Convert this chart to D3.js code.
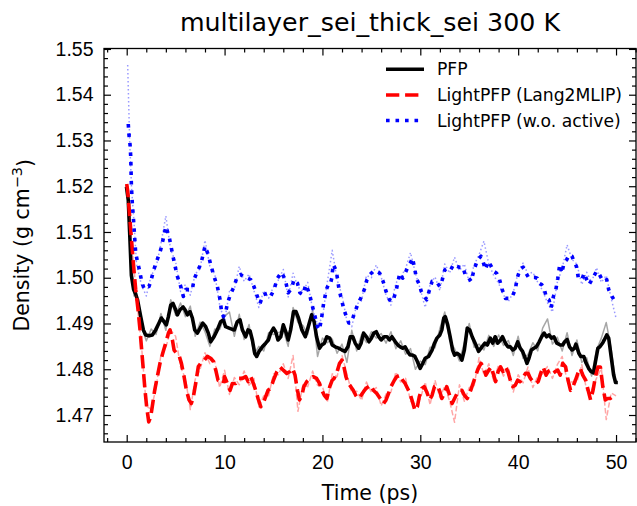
<!DOCTYPE html>
<html>
<head>
<meta charset="utf-8">
<script src="https://cdn.jsdelivr.net/npm/d3@7/dist/d3.min.js"></script>
<style>
  body { margin: 0; background: #fff; }
  svg { font-family: "DejaVu Sans", sans-serif; }
</style>
</head>
<body>
<div id="main"></div>
<script>

// ---- data ----

const xTicks = [0, 10, 20, 30, 40, 50];
const xMinorTicks = [-2, 2, 4, 6, 8, 12, 14, 16, 18, 22, 24, 26, 28, 32, 34, 36, 38, 42, 44, 46, 48, 52];
const yTicks = [1.47, 1.48, 1.49, 1.50, 1.51, 1.52, 1.53, 1.54, 1.55];
const yMinorTicks = [1.466, 1.468, 1.472, 1.474, 1.476, 1.478, 1.482, 1.484, 1.486, 1.488,
    1.492, 1.494, 1.496, 1.498, 1.502, 1.504, 1.506, 1.508, 1.512, 1.514, 1.516, 1.518,
    1.522, 1.524, 1.526, 1.528, 1.532, 1.534, 1.536, 1.538, 1.542, 1.544, 1.546, 1.548];

const seriesNames = ["PFP", "LightPFP (Lang2MLIP)", "LightPFP (w.o. active)"];

// smoothed PFP curve
const pfpTime = [0.0, 0.16, 0.3, 0.48, 0.7, 0.9, 1.1, 1.43, 1.7, 1.94, 2.28, 2.62, 2.96, 3.3, 3.54, 3.81, 4.05, 4.26, 4.5, 4.73,
    5.0, 5.18, 5.45, 5.76, 5.96, 6.2, 6.47, 6.71, 6.95, 7.22, 7.5, 7.77, 8.07, 8.34, 8.58, 8.92, 9.26, 9.6, 9.88, 10.1,
    10.46, 10.8, 11.0, 11.3, 11.58, 11.82, 12.16, 12.4, 12.6, 12.84, 13.08, 13.28, 13.52, 13.86, 14.2, 14.48, 14.7, 15.0, 15.22, 15.46,
    15.74, 16.0, 16.3, 16.5, 16.75, 17.05, 17.3, 17.55, 17.9, 18.25, 18.55, 18.9, 19.15, 19.4, 19.7, 19.93, 20.2, 20.45, 20.75, 21.0,
    21.3, 21.65, 22.0, 22.3, 22.6, 22.85, 23.1, 23.35, 23.7, 23.95, 24.2, 24.5, 24.75, 25.0, 25.25, 25.5, 25.75, 26.0, 26.3, 26.6,
    26.85, 27.1, 27.45, 27.7, 27.95, 28.2, 28.45, 28.7, 28.95, 29.2, 29.45, 29.7, 29.98, 30.25, 30.5, 30.85, 31.2, 31.45, 31.7, 32.0,
    32.2, 32.4, 32.55, 32.8, 33.05, 33.3, 33.5, 33.75, 34.0, 34.25, 34.5, 34.8, 35.05, 35.3, 35.6, 35.95, 36.3, 36.6, 36.85, 37.15,
    37.4, 37.65, 37.9, 38.2, 38.4, 38.7, 38.95, 39.2, 39.45, 39.7, 39.95, 40.2, 40.45, 40.65, 40.9, 41.1, 41.35, 41.6, 41.85, 42.15,
    42.4, 42.65, 42.9, 43.15, 43.4, 43.65, 43.95, 44.3, 44.55, 44.75, 45.0, 45.25, 45.5, 45.75, 45.9, 46.2, 46.4, 46.7, 46.95, 47.2,
    47.45, 47.7, 47.9, 48.15, 48.35, 48.65, 48.8, 49.05, 49.25, 49.5, 49.75, 49.95, 50.0];
const pfpDensity = [1.5195, 1.5170, 1.5100, 1.5005, 1.4975, 1.4965, 1.4952, 1.4915, 1.4886, 1.4875, 1.4873, 1.4875, 1.4886, 1.4901, 1.4912, 1.4904, 1.4897, 1.4915, 1.4940, 1.4944,
    1.4930, 1.4919, 1.4930, 1.4936, 1.4930, 1.4919, 1.4926, 1.4912, 1.4886, 1.4879, 1.4890, 1.4901, 1.4893, 1.4879, 1.4860, 1.4871, 1.4886, 1.4904, 1.4908, 1.4893,
    1.4890, 1.4887, 1.4886, 1.4904, 1.4908, 1.4886, 1.4871, 1.4886, 1.4884, 1.4864, 1.4835, 1.4828, 1.4839, 1.4849, 1.4857, 1.4864, 1.4879, 1.4890, 1.4882, 1.4864,
    1.4871, 1.4897, 1.4879, 1.4864, 1.4886, 1.4926, 1.4926, 1.4912, 1.4886, 1.4871, 1.4893, 1.4919, 1.4904, 1.4871, 1.4846, 1.4853, 1.4857, 1.4871, 1.4868, 1.4853,
    1.4849, 1.4846, 1.4842, 1.4839, 1.4849, 1.4871, 1.4871, 1.4857, 1.4846, 1.4857, 1.4879, 1.4871, 1.4860, 1.4868, 1.4879, 1.4882, 1.4871, 1.4864, 1.4871, 1.4871,
    1.4864, 1.4871, 1.4860, 1.4853, 1.4849, 1.4846, 1.4849, 1.4839, 1.4831, 1.4831, 1.4828, 1.4817, 1.4802, 1.4813, 1.4824, 1.4828, 1.4842, 1.4857, 1.4868, 1.4875,
    1.4886, 1.4912, 1.4915, 1.4897, 1.4871, 1.4842, 1.4831, 1.4835, 1.4831, 1.4820, 1.4842, 1.4890, 1.4886, 1.4871, 1.4857, 1.4839, 1.4849, 1.4857, 1.4853, 1.4868,
    1.4857, 1.4871, 1.4857, 1.4864, 1.4871, 1.4857, 1.4849, 1.4849, 1.4842, 1.4846, 1.4860, 1.4846, 1.4839, 1.4828, 1.4813, 1.4824, 1.4842, 1.4846, 1.4849, 1.4860,
    1.4871, 1.4879, 1.4871, 1.4875, 1.4868, 1.4871, 1.4857, 1.4853, 1.4853, 1.4860, 1.4865, 1.4849, 1.4842, 1.4846, 1.4855, 1.4835, 1.4828, 1.4828, 1.4813, 1.4802,
    1.4795, 1.4792, 1.4817, 1.4846, 1.4849, 1.4858, 1.4864, 1.4875, 1.4868, 1.4828, 1.4788, 1.4771, 1.4771];

// smoothed LightPFP (Lang2MLIP) curve
const langTime = [0.0, 0.1, 0.41, 0.68, 0.92, 1.16, 1.36, 1.53, 1.7, 1.87, 2.04, 2.25, 2.45, 2.66, 2.86, 3.13, 3.4, 3.68, 3.98, 4.26,
    4.43, 4.67, 4.84, 5.1, 5.38, 5.59, 5.86, 6.1, 6.37, 6.6, 6.81, 7.05, 7.32, 7.56, 7.83, 8.24, 8.58, 8.86, 9.1, 9.33,
    9.6, 9.88, 10.0, 10.29, 10.56, 10.8, 11.14, 11.48, 11.82, 12.16, 12.4, 12.67, 12.94, 13.18, 13.42, 13.7, 13.93, 14.2, 14.44, 14.71,
    14.99, 15.33, 15.67, 16.0, 16.35, 16.7, 16.95, 17.2, 17.45, 17.65, 17.9, 18.1, 18.4, 18.75, 19.05, 19.4, 19.7, 19.93, 20.2, 20.45,
    20.75, 21.0, 21.2, 21.5, 21.75, 22.0, 22.2, 22.4, 22.65, 22.9, 23.15, 23.4, 23.65, 23.95, 24.2, 24.45, 24.7, 24.95, 25.2, 25.55,
    25.9, 26.25, 26.5, 26.75, 27.0, 27.35, 27.6, 27.95, 28.2, 28.45, 28.7, 28.95, 29.2, 29.45, 29.7, 29.9, 30.15, 30.4, 30.65, 30.95,
    31.2, 31.45, 31.7, 31.95, 32.2, 32.45, 32.7, 33.0, 33.25, 33.5, 33.75, 34.0, 34.25, 34.5, 34.8, 35.15, 35.5, 35.85, 36.2, 36.45,
    36.7, 37.0, 37.25, 37.5, 37.7, 37.95, 38.2, 38.45, 38.7, 38.95, 39.2, 39.45, 39.7, 39.95, 40.2, 40.45, 40.75, 41.0, 41.25, 41.5,
    41.75, 42.05, 42.3, 42.55, 42.85, 43.05, 43.3, 43.55, 43.8, 44.05, 44.3, 44.55, 44.85, 45.1, 45.35, 45.6, 45.85, 46.1, 46.35, 46.6,
    46.9, 47.15, 47.4, 47.65, 47.9, 48.15, 48.4, 48.65, 48.9, 49.15, 49.4, 49.65];
const langDensity = [1.5205, 1.5190, 1.5105, 1.5032, 1.4974, 1.4930, 1.4886, 1.4842, 1.4798, 1.4754, 1.4718, 1.4685, 1.4696, 1.4725, 1.4754, 1.4784, 1.4813, 1.4835, 1.4857, 1.4879,
    1.4886, 1.4864, 1.4842, 1.4835, 1.4828, 1.4813, 1.4784, 1.4754, 1.4733, 1.4725, 1.4740, 1.4769, 1.4806, 1.4813, 1.4817, 1.4828, 1.4824, 1.4817, 1.4798, 1.4776,
    1.4773, 1.4769, 1.4784, 1.4769, 1.4754, 1.4769, 1.4769, 1.4780, 1.4780, 1.4784, 1.4773, 1.4784, 1.4769, 1.4754, 1.4736, 1.4718, 1.4725, 1.4740, 1.4754, 1.4758,
    1.4776, 1.4794, 1.4805, 1.4798, 1.4791, 1.4795, 1.4802, 1.4787, 1.4754, 1.4733, 1.4743, 1.4762, 1.4773, 1.4780, 1.4784, 1.4780, 1.4769, 1.4754, 1.4743, 1.4736,
    1.4762, 1.4776, 1.4780, 1.4795, 1.4813, 1.4820, 1.4805, 1.4784, 1.4769, 1.4762, 1.4754, 1.4743, 1.4736, 1.4743, 1.4751, 1.4758, 1.4762, 1.4765, 1.4754, 1.4747,
    1.4736, 1.4725, 1.4733, 1.4747, 1.4762, 1.4776, 1.4784, 1.4787, 1.4776, 1.4769, 1.4758, 1.4747, 1.4729, 1.4710, 1.4718, 1.4740, 1.4758, 1.4762, 1.4751, 1.4733,
    1.4743, 1.4762, 1.4765, 1.4754, 1.4736, 1.4747, 1.4762, 1.4743, 1.4725, 1.4736, 1.4747, 1.4754, 1.4754, 1.4743, 1.4736, 1.4754, 1.4776, 1.4798, 1.4813, 1.4805,
    1.4787, 1.4798, 1.4805, 1.4787, 1.4773, 1.4795, 1.4805, 1.4795, 1.4805, 1.4795, 1.4776, 1.4762, 1.4765, 1.4776, 1.4773, 1.4780, 1.4791, 1.4791, 1.4780, 1.4773,
    1.4769, 1.4773, 1.4791, 1.4805, 1.4787, 1.4795, 1.4798, 1.4791, 1.4795, 1.4798, 1.4787, 1.4813, 1.4805, 1.4776, 1.4754, 1.4762, 1.4776, 1.4791, 1.4802, 1.4787,
    1.4776, 1.4754, 1.4733, 1.4754, 1.4784, 1.4805, 1.4805, 1.4762, 1.4733, 1.4736, 1.4736, 1.4740];

// smoothed LightPFP (w.o. active) curve
const woTime = [0.16, 0.23, 0.34, 0.41, 0.48, 0.58, 0.66, 0.75, 0.85, 0.92, 1.09, 1.33, 1.53, 1.77, 2.0, 2.28, 2.52, 2.79, 3.13, 3.47,
    3.71, 4.0, 4.33, 4.5, 4.7, 4.9, 5.18, 5.52, 5.79, 6.03, 6.37, 6.7, 6.88, 7.22, 7.56, 7.77, 8.0, 8.34, 8.58, 8.92,
    9.26, 9.54, 9.67, 9.88, 10.1, 10.29, 10.6, 10.97, 11.3, 11.65, 12.0, 12.33, 12.67, 13.0, 13.35, 13.62, 13.96, 14.37, 14.7, 15.05,
    15.4, 15.8, 16.2, 16.5, 16.85, 17.1, 17.45, 17.7, 18.0, 18.3, 18.65, 18.9, 19.25, 19.5, 19.7, 19.93, 20.1, 20.4, 20.6, 20.8,
    20.95, 21.1, 21.35, 21.5, 21.7, 21.95, 22.2, 22.45, 22.7, 22.9, 23.15, 23.4, 23.65, 24.0, 24.33, 24.55, 24.85, 25.2, 25.5, 25.85,
    26.2, 26.5, 26.85, 27.2, 27.55, 27.9, 28.2, 28.4, 28.75, 29.0, 29.2, 29.4, 29.6, 29.9, 30.1, 30.4, 30.65, 30.95, 31.2, 31.5,
    31.75, 32.0, 32.25, 32.5, 32.8, 33.1, 33.4, 33.75, 34.0, 34.35, 34.6, 34.95, 35.2, 35.5, 35.85, 36.2, 36.4, 36.65, 36.95, 37.25,
    37.5, 37.8, 38.1, 38.35, 38.7, 39.05, 39.4, 39.7, 39.9, 40.2, 40.5, 40.8, 41.05, 41.35, 41.65, 41.95, 42.15, 42.4, 42.65, 42.9,
    43.15, 43.35, 43.6, 43.85, 44.05, 44.25, 44.45, 44.7, 44.95, 45.2, 45.5, 45.75, 45.95, 46.15, 46.5, 46.75, 47.0, 47.25, 47.55, 47.8,
    48.0, 48.3, 48.55, 48.8, 49.05, 49.25, 49.5, 49.75];
const woDensity = [1.5336, 1.5313, 1.5291, 1.5265, 1.5200, 1.5160, 1.5138, 1.5110, 1.5076, 1.5054, 1.5036, 1.5014, 1.4992, 1.4976, 1.4981, 1.4981, 1.4997, 1.5019, 1.5040, 1.5061,
    1.5083, 1.5112, 1.5090, 1.5072, 1.5050, 1.5029, 1.5003, 1.4981, 1.4959, 1.4974, 1.4974, 1.4974, 1.4996, 1.5014, 1.5029, 1.5047, 1.5069, 1.5050, 1.5029, 1.5003,
    1.4981, 1.4952, 1.4930, 1.4915, 1.4923, 1.4944, 1.4963, 1.4981, 1.5003, 1.5007, 1.5001, 1.4999, 1.4996, 1.4981, 1.4959, 1.4944, 1.4963, 1.4966, 1.4959, 1.4974,
    1.4999, 1.5012, 1.4996, 1.4967, 1.4977, 1.4996, 1.4988, 1.4967, 1.4963, 1.4985, 1.4967, 1.4944, 1.4915, 1.4893, 1.4886, 1.4915, 1.4941, 1.4974, 1.4985, 1.4985,
    1.4999, 1.5029, 1.5018, 1.5003, 1.4974, 1.4952, 1.4930, 1.4915, 1.4901, 1.4901, 1.4915, 1.4930, 1.4944, 1.4959, 1.4977, 1.4996, 1.5007, 1.5014, 1.5015, 1.5010,
    1.4992, 1.4970, 1.4952, 1.4948, 1.4974, 1.5010, 1.4999, 1.5007, 1.5025, 1.5033, 1.5043, 1.5023, 1.4999, 1.4985, 1.4970, 1.4959, 1.4952, 1.4974, 1.4992, 1.4992,
    1.4988, 1.4981, 1.4996, 1.5017, 1.5021, 1.5017, 1.5029, 1.5025, 1.5023, 1.5023, 1.5006, 1.4999, 1.4992, 1.5018, 1.5039, 1.5047, 1.5036, 1.5018, 1.5036, 1.5025,
    1.5014, 1.5010, 1.4996, 1.4975, 1.4955, 1.4955, 1.4959, 1.4974, 1.4999, 1.5019, 1.5023, 1.5010, 1.5001, 1.5001, 1.5001, 1.4999, 1.4988, 1.4985, 1.4977, 1.4955,
    1.4952, 1.4934, 1.4959, 1.4974, 1.4999, 1.5029, 1.5010, 1.5033, 1.5039, 1.5050, 1.5047, 1.5033, 1.5025, 1.4999, 1.4996, 1.5010, 1.4996, 1.4985, 1.4997, 1.5006,
    1.5014, 1.5007, 1.4997, 1.4992, 1.4996, 1.4974, 1.4963, 1.4953];

// raw (unsmoothed) traces, drawn faintly behind the smoothed curves
const rawTime = [0.1, 0.3, 0.5, 0.75, 1.0, 1.5, 2.0, 2.5, 3.0, 3.5, 4.0, 4.5, 5.0, 5.5, 6.0, 6.5, 7.0, 7.5, 8.0, 8.5,
    9.0, 9.5, 10.0, 10.5, 11.0, 11.5, 12.0, 12.5, 13.0, 13.5, 14.0, 14.5, 15.0, 15.5, 16.0, 16.5, 17.0, 17.5, 18.0, 18.5,
    19.0, 19.5, 20.0, 20.5, 21.0, 21.5, 22.0, 22.5, 23.0, 23.5, 24.0, 24.5, 25.0, 25.5, 26.0, 26.5, 27.0, 27.5, 28.0, 28.5,
    29.0, 29.5, 30.0, 30.5, 31.0, 31.5, 32.0, 32.5, 33.0, 33.5, 34.0, 34.5, 35.0, 35.5, 36.0, 36.5, 37.0, 37.5, 38.0, 38.5,
    39.0, 39.5, 40.0, 40.5, 41.0, 41.5, 42.0, 42.5, 43.0, 43.5, 44.0, 44.5, 45.0, 45.5, 46.0, 46.5, 47.0, 47.5, 48.0, 48.5,
    49.0, 49.5, 50.0];
const pfpRaw = [1.5185, 1.5095, 1.5010, 1.4960, 1.4968, 1.4895, 1.4862, 1.4888, 1.4876, 1.4922, 1.4885, 1.4952, 1.4918, 1.4945, 1.4915, 1.4938, 1.4872, 1.4903, 1.4882, 1.4850,
    1.4888, 1.4887, 1.4916, 1.4925, 1.4872, 1.4920, 1.4865, 1.4898, 1.4832, 1.4850, 1.4840, 1.4880, 1.4876, 1.4880, 1.4885, 1.4850, 1.4935, 1.4902, 1.4896, 1.4876,
    1.4930, 1.4828, 1.4868, 1.4858, 1.4866, 1.4835, 1.4855, 1.4815, 1.4885, 1.4840, 1.4876, 1.4858, 1.4882, 1.4868, 1.4878, 1.4857, 1.4882, 1.4845, 1.4862, 1.4833,
    1.4845, 1.4800, 1.4818, 1.4810, 1.4848, 1.4847, 1.4889, 1.4925, 1.4862, 1.4845, 1.4818, 1.4858, 1.4900, 1.4848, 1.4855, 1.4842, 1.4874, 1.4850, 1.4875, 1.4852,
    1.4863, 1.4830, 1.4872, 1.4824, 1.4832, 1.4858, 1.4840, 1.4890, 1.4910, 1.4855, 1.4870, 1.4840, 1.4880, 1.4830, 1.4864, 1.4815, 1.4825, 1.4785, 1.4842, 1.4868,
    1.4902, 1.4845, 1.4768];
const langRaw = [1.5185, 1.5135, 1.5075, 1.5020, 1.4955, 1.4855, 1.4720, 1.4712, 1.4760, 1.4832, 1.4848, 1.4885, 1.4872, 1.4805, 1.4780, 1.4712, 1.4778, 1.4800, 1.4836, 1.4812,
    1.4818, 1.4760, 1.4798, 1.4745, 1.4782, 1.4766, 1.4796, 1.4765, 1.4780, 1.4718, 1.4742, 1.4742, 1.4790, 1.4788, 1.4812, 1.4780, 1.4830, 1.4708, 1.4766, 1.4762,
    1.4796, 1.4765, 1.4762, 1.4728, 1.4790, 1.4784, 1.4830, 1.4790, 1.4748, 1.4752, 1.4732, 1.4772, 1.4750, 1.4760, 1.4720, 1.4746, 1.4750, 1.4794, 1.4772, 1.4780,
    1.4730, 1.4724, 1.4735, 1.4772, 1.4722, 1.4776, 1.4738, 1.4763, 1.4730, 1.4684, 1.4766, 1.4730, 1.4760, 1.4764, 1.4825, 1.4788, 1.4812, 1.4774, 1.4810, 1.4785,
    1.4805, 1.4750, 1.4788, 1.4770, 1.4805, 1.4760, 1.4785, 1.4790, 1.4806, 1.4780, 1.4810, 1.4828, 1.4775, 1.4772, 1.4772, 1.4810, 1.4754, 1.4755, 1.4780, 1.4802,
    1.4690, 1.4748, 1.4742];
const woRaw = [1.5465, 1.5300, 1.5195, 1.5120, 1.5030, 1.4985, 1.4960, 1.5005, 1.5022, 1.5075, 1.5135, 1.5060, 1.5035, 1.4970, 1.4985, 1.4962, 1.5008, 1.5020, 1.5082, 1.5025,
    1.5008, 1.4940, 1.4905, 1.4970, 1.4975, 1.5025, 1.4992, 1.5008, 1.4972, 1.4935, 1.4972, 1.4955, 1.4980, 1.4995, 1.5018, 1.4958, 1.5010, 1.4980, 1.4970, 1.4990,
    1.4930, 1.4898, 1.4912, 1.4990, 1.5060, 1.4995, 1.4962, 1.4905, 1.4893, 1.4942, 1.4950, 1.5005, 1.5000, 1.5028, 1.5002, 1.4962, 1.4940, 1.4988, 1.5002, 1.5020,
    1.5055, 1.5010, 1.4975, 1.4935, 1.4985, 1.5002, 1.4972, 1.5030, 1.5010, 1.5045, 1.5015, 1.5030, 1.4990, 1.5028, 1.5050, 1.5080, 1.5030, 1.5005, 1.4988, 1.4962,
    1.4948, 1.4968, 1.5012, 1.5032, 1.5008, 1.5012, 1.4990, 1.4972, 1.4945, 1.4925, 1.4990, 1.5020, 1.5072, 1.5040, 1.5030, 1.4985, 1.5012, 1.4990, 1.5022, 1.4990,
    1.5005, 1.4955, 1.4912];

// ---- chart ----

class DensityChart {

    constructor() {
        this.width = 637;
        this.height = 506;
        this.plot = {left: 104, right: 636, top: 48.5, bottom: 442};

        this.svg = d3.select("#main").append("svg")
            .attr("width", this.width)
            .attr("height", this.height);

        this.x = d3.scaleLinear().domain([-2.32, 52.04]).range([this.plot.left, this.plot.right]);
        this.y = d3.scaleLinear().domain([1.4641, 1.5501]).range([this.plot.bottom, this.plot.top]);

        this.drawCurves();
        this.drawAxes();
        this.drawLabels();
        this.drawLegend();
    }

    drawCurves() {
        const p = this.plot;
        this.svg.append("clipPath").attr("id", "plot-clip")
            .append("rect")
            .attr("x", p.left).attr("y", p.top)
            .attr("width", p.right - p.left).attr("height", p.bottom - p.top);

        const g = this.svg.append("g").attr("clip-path", "url(#plot-clip)");

        const line = d3.line()
            .x(d => this.x(d[0]))
            .y(d => this.y(d[1]));

        const zip = (ts, vs) => ts.map((t, i) => [t, vs[i]]);

        const series = [
            {raw: pfpRaw, t: pfpTime, v: pfpDensity, color: "#000000", dash: null, rawDash: null, rawOpacity: 0.35},
            {raw: langRaw, t: langTime, v: langDensity, color: "#ff0000", dash: "13.3,5.8", rawDash: "5.5,2.4", rawOpacity: 0.35},
            {raw: woRaw, t: woTime, v: woDensity, color: "#0000ff", dash: "3.6,5.9", rawDash: "1.5,2.5", rawOpacity: 0.4}
        ];

        series.forEach(s => {
            // faint raw trace
            g.append("path")
                .attr("d", line(zip(rawTime, s.raw)))
                .attr("fill", "none")
                .attr("stroke", s.color)
                .attr("stroke-opacity", s.rawOpacity)
                .attr("stroke-width", 1.5)
                .attr("stroke-dasharray", s.rawDash)
                .attr("stroke-linejoin", "round");

            // smoothed trace
            g.append("path")
                .attr("d", line(zip(s.t, s.v)))
                .attr("fill", "none")
                .attr("stroke", s.color)
                .attr("stroke-width", 3.6)
                .attr("stroke-dasharray", s.dash)
                .attr("stroke-linejoin", "round")
                .attr("stroke-linecap", s.dash ? "butt" : "square");
        });
    }

    drawAxes() {
        const p = this.plot;
        const major = 7, minor = 4;

        const styleAxis = sel => {
            sel.select(".domain").remove();
            sel.selectAll("line").attr("stroke", "#000").attr("stroke-width", 1.2);
            sel.selectAll("text").attr("fill", "#000").style("font-size", "19.5px");
        };

        // bottom
        this.svg.append("g")
            .attr("transform", "translate(0," + p.bottom + ")")
            .call(d3.axisBottom(this.x).tickValues(xTicks).tickSize(-major).tickPadding(13).tickFormat(d3.format("d")))
            .call(styleAxis);
        this.svg.append("g")
            .attr("transform", "translate(0," + p.bottom + ")")
            .call(d3.axisBottom(this.x).tickValues(xMinorTicks).tickSize(-minor).tickFormat(""))
            .call(styleAxis);

        // top
        this.svg.append("g")
            .attr("transform", "translate(0," + p.top + ")")
            .call(d3.axisTop(this.x).tickValues(xTicks).tickSize(-major).tickFormat(""))
            .call(styleAxis);
        this.svg.append("g")
            .attr("transform", "translate(0," + p.top + ")")
            .call(d3.axisTop(this.x).tickValues(xMinorTicks).tickSize(-minor).tickFormat(""))
            .call(styleAxis);

        // left
        this.svg.append("g")
            .attr("transform", "translate(" + p.left + ",0)")
            .call(d3.axisLeft(this.y).tickValues(yTicks).tickSize(-major).tickPadding(10.5).tickFormat(d3.format(".2f")))
            .call(styleAxis);
        this.svg.append("g")
            .attr("transform", "translate(" + p.left + ",0)")
            .call(d3.axisLeft(this.y).tickValues(yMinorTicks).tickSize(-minor).tickFormat(""))
            .call(styleAxis);

        // right
        this.svg.append("g")
            .attr("transform", "translate(" + p.right + ",0)")
            .call(d3.axisRight(this.y).tickValues(yTicks).tickSize(-major).tickFormat(""))
            .call(styleAxis);
        this.svg.append("g")
            .attr("transform", "translate(" + p.right + ",0)")
            .call(d3.axisRight(this.y).tickValues(yMinorTicks).tickSize(-minor).tickFormat(""))
            .call(styleAxis);

        // frame
        this.svg.append("rect")
            .attr("x", p.left).attr("y", p.top)
            .attr("width", p.right - p.left).attr("height", p.bottom - p.top)
            .attr("fill", "none")
            .attr("stroke", "#000")
            .attr("stroke-width", 1.3);
    }

    drawLabels() {
        const p = this.plot;
        const cx = (p.left + p.right) / 2;

        this.svg.append("text")
            .attr("x", cx).attr("y", 31)
            .attr("text-anchor", "middle")
            .style("font-size", "25.3px")
            .text("multilayer_sei_thick_sei 300 K");

        this.svg.append("text")
            .attr("x", cx).attr("y", 500)
            .attr("text-anchor", "middle")
            .style("font-size", "20.5px")
            .text("Time (ps)");

        const yl = this.svg.append("text")
            .attr("text-anchor", "middle")
            .attr("transform", "translate(29," + ((p.top + p.bottom) / 2) + ")rotate(-90)")
            .style("font-size", "20.5px");
        yl.append("tspan").text("Density (g cm");
        yl.append("tspan").attr("dy", "-0.45em").style("font-size", "14.5px").text("\u22123");
        yl.append("tspan").attr("dy", "0.45em").text(")");
    }

    drawLegend() {
        const rows = [
            {name: seriesNames[0], color: "#000000", dash: null, y: 69.3},
            {name: seriesNames[1], color: "#ff0000", dash: "13.3,5.8", y: 95},
            {name: seriesNames[2], color: "#0000ff", dash: "3.6,5.9", y: 120.5}
        ];
        const lg = this.svg.append("g");

        lg.selectAll(".legend-line")
            .data(rows)
            .enter().append("line")
            .attr("x1", 386).attr("x2", 424)
            .attr("y1", d => d.y).attr("y2", d => d.y)
            .attr("stroke", d => d.color)
            .attr("stroke-width", 3.6)
            .attr("stroke-dasharray", d => d.dash);

        lg.selectAll(".legend-text")
            .data(rows)
            .enter().append("text")
            .attr("x", 437)
            .attr("y", d => d.y)
            .attr("dy", "0.36em")
            .style("font-size", "17.2px")
            .text(d => d.name);
    }
}

new DensityChart();
</script>
</body>
</html>
